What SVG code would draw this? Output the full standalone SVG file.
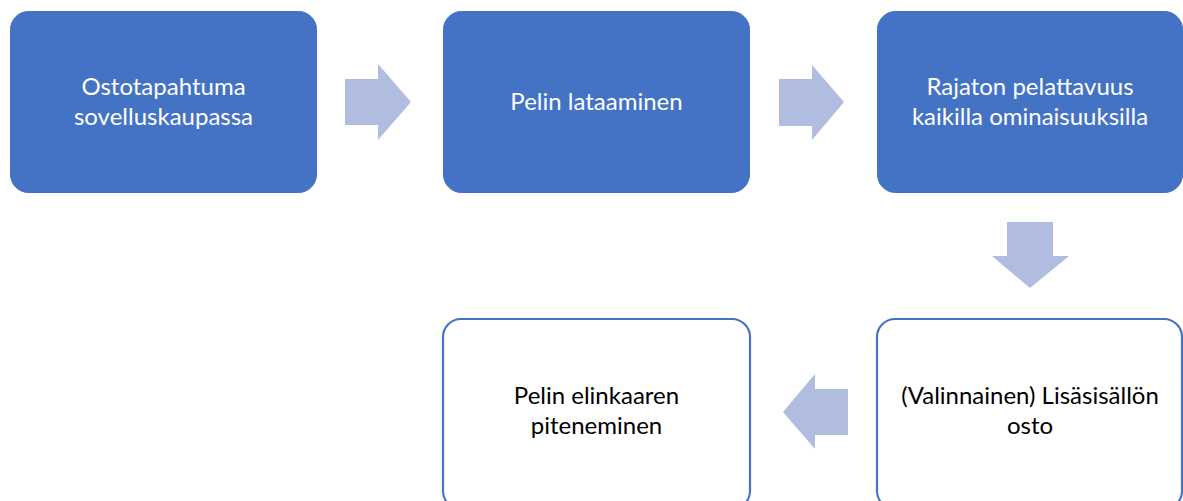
<svg xmlns="http://www.w3.org/2000/svg" width="1183" height="501" viewBox="0 0 1183 501">
<style>
.filled{fill:#4472C4;stroke:#4472C4;stroke-width:1}
.outlined{fill:#FFFFFF;stroke:#4472C4;stroke-width:2.2}
.arrow{fill:#B0BDE0;stroke:none}
text{font-family:Lato,"Liberation Sans",sans-serif;font-size:24px;text-anchor:middle}
.w{fill:#FFFFFF}
.b{fill:#000000}
</style>
<rect width="1183" height="501" fill="#FFFFFF"/>
<g id="connectors">
<polygon class="arrow" points="345,79 378,79 378,64 411,102 378,140 378,125 345,125"/>
<polygon class="arrow" points="779,79 812,79 812,65 844,102 812,140 812,126 779,126"/>
<polygon class="arrow" points="1007,222 1053,222 1053,256 1069,256 1030,288 992,256 1007,256"/>
<polygon class="arrow" points="848,389 815,389 815,374 783,412 815,449 815,435 848,435"/>
</g>
<g id="node1">
<rect class="filled" x="10.5" y="11.5" width="306" height="181" rx="18"/>
<text class="w" x="163.5" y="95">Ostotapahtuma</text>
<text class="w" x="163.5" y="125">sovelluskaupassa</text>
</g>
<g id="node2">
<rect class="filled" x="443.5" y="11.5" width="306" height="181" rx="18"/>
<text class="w" x="596.5" y="110">Pelin lataaminen</text>
</g>
<g id="node3">
<rect class="filled" x="877.5" y="11.5" width="305" height="181" rx="18"/>
<text class="w" x="1030" y="95">Rajaton pelattavuus</text>
<text class="w" x="1030" y="125">kaikilla ominaisuuksilla</text>
</g>
<g id="node4">
<rect class="outlined" x="877" y="319" width="305" height="190" rx="18"/>
<text class="b" x="1030" y="404">(Valinnainen) Lisäsisällön</text>
<text class="b" x="1030" y="434">osto</text>
</g>
<g id="node5">
<rect class="outlined" x="443" y="319" width="307" height="190" rx="18"/>
<text class="b" x="596.5" y="404">Pelin elinkaaren</text>
<text class="b" x="596.5" y="434">piteneminen</text>
</g>
</svg>
